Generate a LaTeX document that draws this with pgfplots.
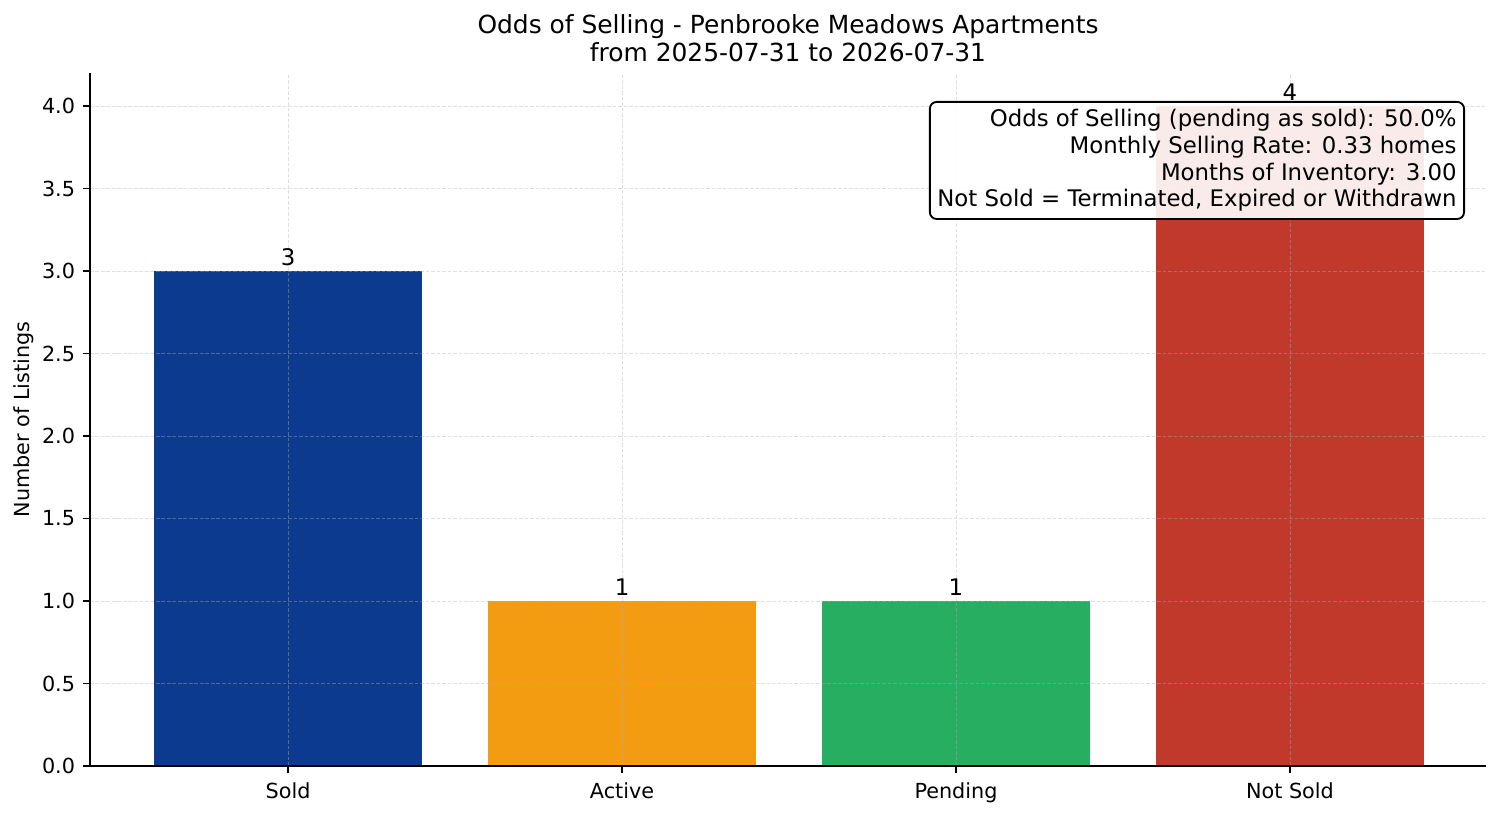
\documentclass[border=0pt]{standalone}
\usepackage{fontspec}
\setmainfont{DejaVu Sans}
\usepackage{pgfplots}
\pgfplotsset{compat=1.18}

\definecolor{soldblue}{HTML}{0B3A8E}
\definecolor{activeorange}{HTML}{F39C12}
\definecolor{pendinggreen}{HTML}{27AE60}
\definecolor{notsoldred}{HTML}{C0392B}
\definecolor{gridgray}{HTML}{B0B0B0}

\begin{document}
\begin{tikzpicture}
% 1px = 0.4818pt (150 dpi)
\useasboundingbox (-43.36pt,-24.09pt) rectangle (679.82pt,369.06pt);
\begin{axis}[
    at={(0pt,0pt)}, anchor=south west,
    scale only axis,
    width=672.59pt, height=333.89pt,
    xmin=-0.593, xmax=3.587,
    ymin=0, ymax=4.2,
    axis x line*=bottom, axis y line*=left,
    axis line style={line width=0.8pt, black, -},
    axis on top,
    xtick={0,1,2,3},
    xticklabels={Sold,Active,Pending,Not Sold},
    ytick={0,0.5,1.0,1.5,2.0,2.5,3.0,3.5,4.0},
    yticklabel={\pgfmathprintnumber[fixed,fixed zerofill,precision=1]{\tick}},
    /pgf/number format/assume math mode=true,
    tick align=outside,
    major tick length=3.5pt,
    tick style={line width=0.8pt, black},
    ticklabel style={font=\fontsize{10}{12}\selectfont, inner sep=0pt},
    xticklabel style={yshift=-4.3pt},
    yticklabel style={xshift=-3.5pt},
    grid=major,
    grid style={dash pattern=on 1.85pt off 0.8pt, line width=0.4pt, gridgray, opacity=0.4},
    ybar, bar width=0.8, bar shift=0pt,
    nodes near coords,
    nodes near coords style={font=\fontsize{11}{13}\selectfont, anchor=south, inner sep=0pt, yshift=2.5pt, black},
]
\addplot[fill=soldblue, draw=none] coordinates {(0,3)};
\addplot[fill=activeorange, draw=none] coordinates {(1,1)};
\addplot[fill=pendinggreen, draw=none] coordinates {(2,1)};
\addplot[fill=notsoldred, draw=none] coordinates {(3,4)};
\end{axis}

\node[anchor=base, font=\fontsize{12}{14}\selectfont] at ([yshift=18.79pt]current axis.north) {Odds of Selling - Penbrooke Meadows Apartments};
\node[anchor=base, font=\fontsize{12}{14}\selectfont] at ([yshift=5.3pt]current axis.north) {from 2025-07-31 to 2026-07-31};
\node[rotate=90, font=\fontsize{10}{12}\selectfont] at ([xshift=-31.8pt]current axis.west) {Number of Listings};

\node[anchor=north east, draw=black, line width=0.9pt, fill=white, fill opacity=0.9, text opacity=1,
      rounded corners=3.3pt, inner sep=3.6pt, align=right, font=\fontsize{11}{12.85}\selectfont]
  at ([xshift=-10.12pt,yshift=-13.49pt]current axis.north east)
  {Odds of Selling (pending as sold): 50.0\%\\
   Monthly Selling Rate: 0.33 homes\\
   Months of Inventory: 3.00\\
   Not Sold = Terminated, Expired or Withdrawn};
\end{tikzpicture}
\end{document}
